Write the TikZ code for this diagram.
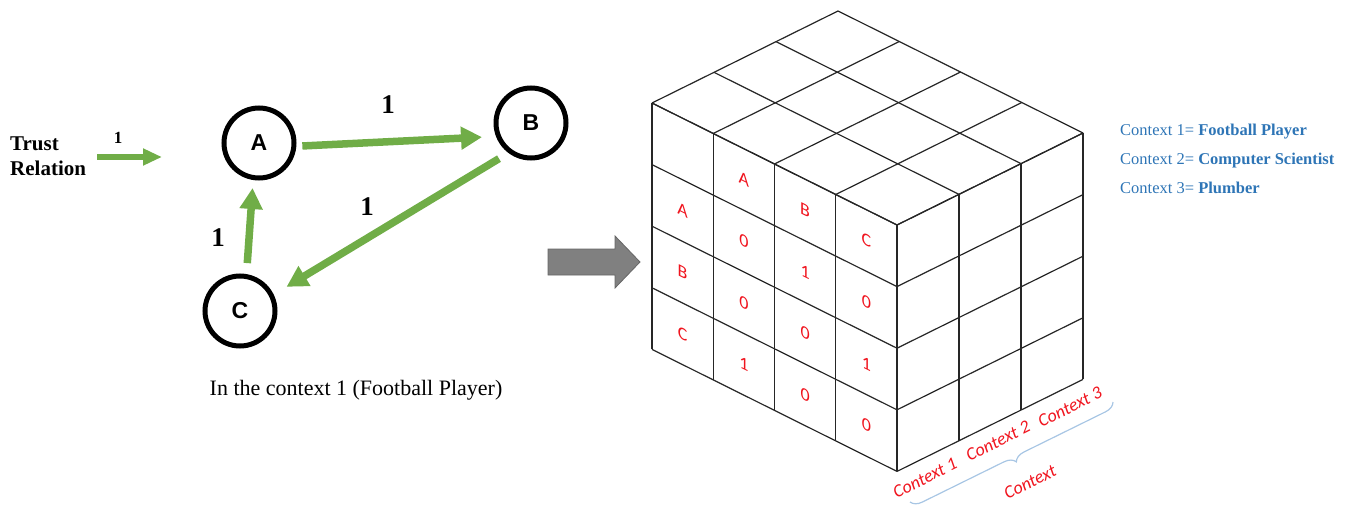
\documentclass[tikz,border=0pt]{standalone}
\usepackage{fontspec}
\setmainfont{Liberation Serif}
\newfontfamily\sansA{Liberation Sans}
\newfontfamily\calib{Carlito}
\usetikzlibrary{arrows.meta,decorations.pathreplacing,calc}
\definecolor{grn}{HTML}{70AD47}
\definecolor{cred}{HTML}{F0141E}
\definecolor{lblue}{HTML}{2E75B6}
\definecolor{brc}{HTML}{A8C6E4}
\definecolor{garw}{HTML}{808080}
\begin{document}
\begin{tikzpicture}[x=1pt,y=-1pt,
  vert/.style={circle,draw=black,line width=5pt,minimum size=70pt,inner sep=0pt,font=\sansA\bfseries\fontsize{23}{23}\selectfont},
  garrow/.style={draw=grn,line width=7.5pt,-{Triangle[length=21pt,width=22pt]}},
  elabel/.style={font=\bfseries\fontsize{27}{27}\selectfont},
  grid/.style={draw=black!85,line width=1.2pt},
  cell/.style={text=cred,font=\calib\fontsize{18}{18}\selectfont,yslant=-0.5},
  ctx/.style={text=cred,font=\calib\itshape\fontsize{18}{18}\selectfont,rotate=26.3},
  legend/.style={text=lblue,font=\fontsize{16.5}{16.5}\selectfont,anchor=base west,inner sep=0pt}
]
\useasboundingbox (0,0) rectangle (1353,506);

% ---- graph ----
\node[vert] (A) at (259,143) {A};
\node[vert] (B) at (531,123) {B};
\node[vert] (C) at (240,311) {C};

\draw[garrow,shorten <=6pt,shorten >=14pt] (A.-5) -- (B.201.6);
\draw[garrow,shorten <=11pt,shorten >=15pt] (B.233.4) -- (C.26.1);
\draw[garrow,shorten <=11pt,shorten >=8pt] (C.80.5) -- (A.261.2);

\node[elabel] (l1) at (388,105) {1};
\node[elabel] (l2) at (367,207) {1};
\node[elabel] (l3) at (218,238) {1};

% trust relation legend
\node[anchor=base west,inner sep=0pt,font=\bfseries\fontsize{21}{21}\selectfont] (tr1) at (10,150) {Trust};
\node[anchor=base west,inner sep=0pt,font=\bfseries\fontsize{21}{21}\selectfont] (tr2) at (10,175) {Relation};
\coordinate (t1) at (97,157);
\coordinate (t2) at (162,157);
\draw[draw=grn,line width=6.5pt,-{Triangle[length=19pt,width=16pt]}] (t1) -- (t2);
\node[font=\bfseries\fontsize{17}{17}\selectfont] (tl) at (118,138) {1};

\node[anchor=base,font=\fontsize{22}{22}\selectfont] (cap) at (356,395) {In the context 1 (Football Player)};

% ---- gray arrow ----
\filldraw[fill=garw,draw=black!60,line width=0.8pt]
  (548,249) -- (615,249) -- (615,236) -- (640,262) -- (615,288) -- (615,275) -- (548,275) -- cycle;

% ---- cube ----
\coordinate (L) at (652,103);
\coordinate (F) at (897,225);
\foreach \i in {0,...,4} \draw[grid] ($(L)+\i*(61.25,30.5)$) -- ++(0,246.4);
\foreach \j in {0,...,4} \draw[grid] ($(L)+\j*(0,61.6)$) -- ++(245,122);
\foreach \k in {0,...,3} \draw[grid] ($(F)+\k*(62,-30.67)$) -- ++(0,246.4);
\foreach \j in {0,...,4} \draw[grid] ($(F)+\j*(0,61.6)$) -- ++(186,-92);
\foreach \i in {0,...,4} \draw[grid] ($(L)+\i*(61.25,30.5)$) -- ++(186,-92);
\foreach \k in {0,...,3} \draw[grid] ($(L)+\k*(62,-30.67)$) -- ++(245,122);

\foreach \i/\j/\t in {1/0/A,2/0/B,3/0/C,
                      0/1/A,1/1/0,2/1/1,3/1/0,
                      0/2/B,1/2/0,2/2/0,3/2/1,
                      0/3/C,1/3/1,2/3/0,3/3/0}
  \node[cell] at ({652+61.25*(\i+0.5)},{103+30.5*(\i+0.5)+61.6*(\j+0.5)}) {\t};

\node[ctx] (c1) at (925,478) {Context 1};
\node[ctx] (c2) at (998,441) {Context 2};
\node[ctx] (c3) at (1070,407) {Context 3};
\coordinate (b1) at (910,502);
\coordinate (b2) at (1113,402);
\draw[draw=brc,line width=1.2pt,decorate,decoration={brace,mirror,amplitude=11pt}] (b1) -- (b2);
\node[ctx] (cx) at (1030,482) {Context};

% ---- legend ----
\node[legend] (g1) at (1120,135) {Context 1= \textbf{Football Player}};
\node[legend] (g2) at (1120,164) {Context 2= \textbf{Computer Scientist}};
\node[legend] (g3) at (1120,193) {Context 3= \textbf{Plumber}};
\end{tikzpicture}
\end{document}
